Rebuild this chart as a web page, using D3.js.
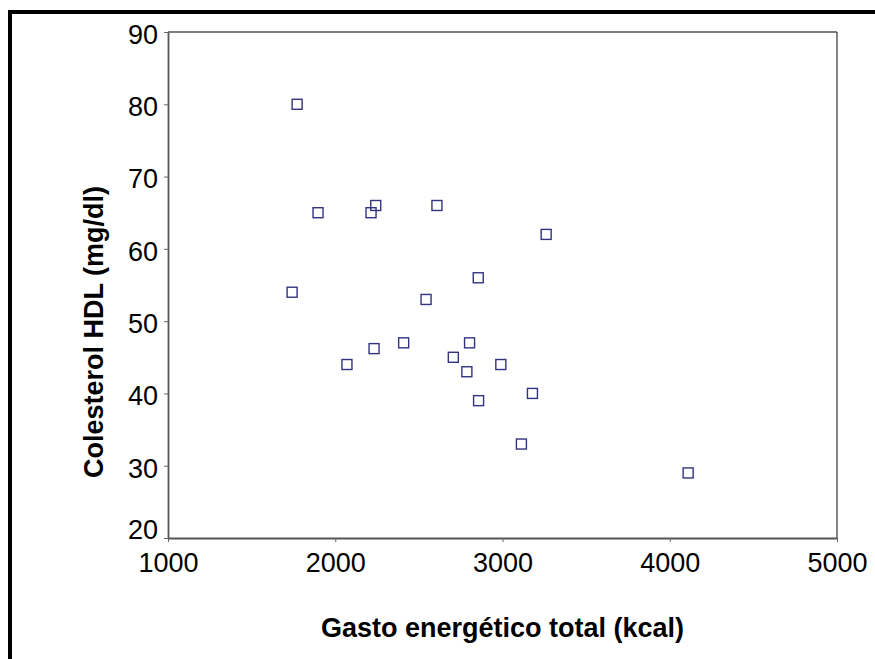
<!DOCTYPE html>
<html><head><meta charset="utf-8">
<script src="https://cdn.jsdelivr.net/npm/d3@7/dist/d3.min.js"></script>
<style>body{margin:0;background:#fff}svg{display:block}</style>
</head><body>
<script>
const gastoKcal = [1772,1897,2214,2242,1742,2070,2232,2409,2543,2608,3261,2855,2803,2706,2787,2990,3179,2857,3113,4110];
const hdl =       [80,65,65,66,54,44,46.2,47,53,66,62,56,47,45,43,44,40,39,33,29];
const xTicks = [1000,2000,3000,4000,5000];
const yTicks = [20,30,40,50,60,70,80,90];
const xTitle = "Gasto energético total (kcal)";
const yTitle = "Colesterol HDL (mg/dl)";

const W = 875, H = 659;
const m = {left:168, right:837, top:32, bottom:538};
const svg = d3.select("body").append("svg").attr("width",W).attr("height",H);

svg.append("rect").attr("x",10).attr("y",12).attr("width",900).attr("height",700)
  .attr("fill","none").attr("stroke","#000").attr("stroke-width",4);

const x = d3.scaleLinear().domain([1000,5000]).range([m.left,m.right]);
const y = d3.scaleLinear().domain([20,90]).range([m.bottom,m.top]);

svg.append("line").attr("x1",m.left).attr("x2",m.right).attr("y1",m.top).attr("y2",m.top).attr("stroke","#000").attr("stroke-width",1.2);
svg.append("line").attr("x1",m.right).attr("x2",m.right).attr("y1",m.top).attr("y2",m.bottom).attr("stroke","#333").attr("stroke-width",1.2);

const font = "Arial, 'Liberation Sans', sans-serif";

const xa = svg.append("g").attr("transform",`translate(0,${m.bottom})`)
  .call(d3.axisBottom(x).tickValues(xTicks).tickFormat(d3.format("d")).tickSizeOuter(0).tickSizeInner(4).tickPadding(11));
const ya = svg.append("g").attr("transform",`translate(${m.left},0)`)
  .call(d3.axisLeft(y).tickValues(yTicks).tickFormat(d3.format("d")).tickSizeOuter(0).tickSizeInner(4).tickPadding(6));
[xa,ya].forEach(g=>{
  g.select(".domain").attr("stroke","#555").attr("stroke-width",1.8);
  g.selectAll(".tick line").attr("stroke","#666").attr("stroke-width",1);
  g.selectAll(".tick text").attr("fill","#000").style("font-family",font).style("font-size","27px");
});
xa.selectAll(".tick text").attr("dy","0.72em");
ya.selectAll(".tick text").attr("dy",d => d === 20 ? "0" : "0.42em");

svg.append("g").selectAll("rect").data(gastoKcal).join("rect")
  .attr("x",(d)=>x(d)-5).attr("y",(d,i)=>y(hdl[i])-5)
  .attr("width",10).attr("height",10)
  .attr("fill","none").attr("stroke","#33337f").attr("stroke-width",1.4);

svg.append("text").attr("x",(m.left+m.right)/2).attr("y",637)
  .attr("text-anchor","middle").style("font-family",font).style("font-size","27px").style("font-weight","bold")
  .text(xTitle);
svg.append("text").attr("transform","translate(103,332) rotate(-90)")
  .attr("text-anchor","middle").style("font-family",font).style("font-size","27px").style("font-weight","bold")
  .text(yTitle);
</script>
</body></html>
